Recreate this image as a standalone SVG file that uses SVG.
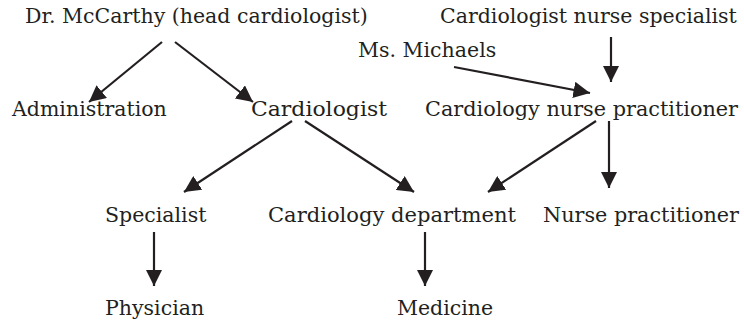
<svg xmlns="http://www.w3.org/2000/svg" width="744" height="322" viewBox="0 0 744 322">
  <style>
    text { font-family: "DejaVu Serif", "Liberation Serif", serif; font-size: 20.5px; fill: #231f20; }
    .edge { stroke: #231f20; stroke-width: 2.2; fill: none; marker-end: url(#head); }
  </style>
  <defs>
    <marker id="head" viewBox="0 0 10 10" refX="10" refY="5" markerWidth="7.5" markerHeight="7.5" markerUnits="strokeWidth" orient="auto">
      <path d="M0,0 L10,5 L0,10 Z" fill="#231f20"/>
    </marker>
  </defs>
  <rect width="744" height="322" fill="#ffffff"/>

  <g id="edges">
    <line class="edge" x1="162" y1="42" x2="89" y2="102"/>
    <line class="edge" x1="175" y1="42" x2="253" y2="102"/>
    <line class="edge" x1="454" y1="67" x2="590" y2="93"/>
    <line class="edge" x1="611" y1="37" x2="611" y2="82"/>
    <line class="edge" x1="292" y1="121" x2="184" y2="192"/>
    <line class="edge" x1="305" y1="121" x2="414" y2="192"/>
    <line class="edge" x1="596" y1="121" x2="488" y2="192"/>
    <line class="edge" x1="609" y1="121" x2="609" y2="188"/>
    <line class="edge" x1="154" y1="232" x2="154" y2="286"/>
    <line class="edge" x1="425" y1="232" x2="425" y2="286"/>
  </g>

  <g id="mccarthy"><text x="25" y="23">Dr. McCarthy (head cardiologist)</text></g>
  <g id="nurse-specialist"><text x="440" y="23">Cardiologist nurse specialist</text></g>
  <g id="michaels"><text x="358" y="57">Ms. Michaels</text></g>
  <g id="administration"><text x="12" y="116">Administration</text></g>
  <g id="cardiologist"><text x="251" y="116" textLength="136" lengthAdjust="spacingAndGlyphs">Cardiologist</text></g>
  <g id="nurse-practitioner-cardio"><text x="425" y="116" textLength="313" lengthAdjust="spacingAndGlyphs">Cardiology nurse practitioner</text></g>
  <g id="specialist"><text x="105" y="222">Specialist</text></g>
  <g id="department"><text x="268" y="222" textLength="248" lengthAdjust="spacingAndGlyphs">Cardiology department</text></g>
  <g id="nurse-practitioner"><text x="543" y="222" textLength="196" lengthAdjust="spacingAndGlyphs">Nurse practitioner</text></g>
  <g id="physician"><text x="105" y="315">Physician</text></g>
  <g id="medicine"><text x="397" y="315">Medicine</text></g>
</svg>
